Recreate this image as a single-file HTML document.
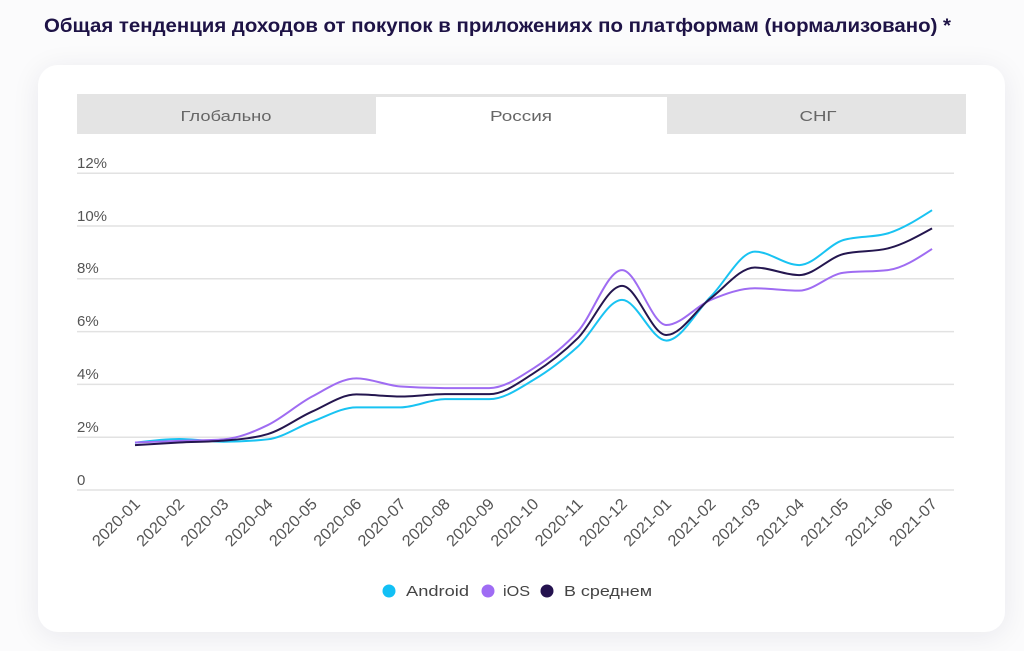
<!DOCTYPE html>
<html><head><meta charset="utf-8">
<style>
html,body{margin:0;padding:0;width:1024px;height:651px;overflow:hidden;background:#fbfbfc;}
.card{position:absolute;left:38px;top:65px;width:967px;height:567px;background:#fff;border-radius:20px;box-shadow:0 4px 28px rgba(30,30,70,0.08);}
svg{position:absolute;left:0;top:0;}
text{font-family:"Liberation Sans",sans-serif;}
</style></head>
<body>
<div class="card"></div>
<svg width="1024" height="651" viewBox="0 0 1024 651">
  <text x="44" y="32" font-size="19" font-weight="bold" fill="#1e1346" textLength="907" lengthAdjust="spacingAndGlyphs">Общая тенденция доходов от покупок в приложениях по платформам (нормализовано) *</text>
  <!-- tabs -->
  <rect x="77" y="94" width="889" height="40" fill="#e4e4e4"/>
  <rect x="376" y="97" width="291" height="37" fill="#ffffff"/>
  <text x="226" y="121" font-size="15" fill="#666" text-anchor="middle" textLength="91" lengthAdjust="spacingAndGlyphs">Глобально</text>
  <text x="521" y="121" font-size="15" fill="#666" text-anchor="middle" textLength="62" lengthAdjust="spacingAndGlyphs">Россия</text>
  <text x="818" y="121" font-size="15" fill="#666" text-anchor="middle" textLength="37" lengthAdjust="spacingAndGlyphs">СНГ</text>
  <!-- grid -->
  <g stroke="#e2e2e2" stroke-width="1.5">
    <line x1="77" x2="954" y1="173.2" y2="173.2"/>
    <line x1="77" x2="954" y1="226" y2="226"/>
    <line x1="77" x2="954" y1="278.8" y2="278.8"/>
    <line x1="77" x2="954" y1="331.6" y2="331.6"/>
    <line x1="77" x2="954" y1="384.4" y2="384.4"/>
    <line x1="77" x2="954" y1="437.2" y2="437.2"/>
    <line x1="77" x2="954" y1="490" y2="490"/>
  </g>
  <g font-size="15" fill="#555">
    <text x="77" y="168">12%</text>
    <text x="77" y="221">10%</text>
    <text x="77" y="273">8%</text>
    <text x="77" y="326">6%</text>
    <text x="77" y="379">4%</text>
    <text x="77" y="432">2%</text>
    <text x="77" y="485">0</text>
  </g>
  <g id="xl" font-size="16" fill="#555" text-anchor="end"></g>
  <path id="pc" fill="none" stroke="#19c3f2" stroke-width="2"/>
  <path id="pp" fill="none" stroke="#9f6cf2" stroke-width="2"/>
  <path id="pd" fill="none" stroke="#24164f" stroke-width="2"/>
  <!-- legend -->
  <circle cx="389" cy="591" r="6.5" fill="#12c0f5"/>
  <text x="406" y="596" font-size="15" fill="#444" textLength="63" lengthAdjust="spacingAndGlyphs">Android</text>
  <circle cx="488" cy="591" r="6.5" fill="#9f6cf4"/>
  <text x="503" y="596" font-size="15" fill="#444" textLength="27" lengthAdjust="spacingAndGlyphs">iOS</text>
  <circle cx="547" cy="591" r="6.5" fill="#24124f"/>
  <text x="564" y="596" font-size="15" fill="#444" textLength="88" lengthAdjust="spacingAndGlyphs">В среднем</text>
</svg>
<script>
(function(){
  var labels=["2020-01","2020-02","2020-03","2020-04","2020-05","2020-06","2020-07","2020-08","2020-09","2020-10","2020-11","2020-12","2021-01","2021-02","2021-03","2021-04","2021-05","2021-06","2021-07"];
  var cyan=[1.79,1.93,1.83,1.92,2.59,3.13,3.13,3.44,3.44,4.17,5.43,7.2,5.66,7.32,9.03,8.52,9.47,9.72,10.6];
  var purp=[1.8,1.86,1.92,2.46,3.54,4.23,3.92,3.86,3.86,4.61,6.0,8.33,6.25,7.2,7.64,7.55,8.23,8.33,9.13];
  var dark=[1.70,1.8,1.87,2.12,2.97,3.62,3.54,3.63,3.63,4.42,5.75,7.73,5.87,7.26,8.43,8.14,8.94,9.15,9.91];
  function X(i){return 135+i*44.28;}
  function Y(v){return 490-v*26.4;}
  var ns="http://www.w3.org/2000/svg";
  var g=document.getElementById("xl");
  for(var i=0;i<labels.length;i++){
    var t=document.createElementNS(ns,"text");
    var ax=X(i)+6, ay=505;
    t.setAttribute("x",ax);t.setAttribute("y",ay);
    t.setAttribute("transform","rotate(-45 "+ax+" "+ay+")");
    t.setAttribute("textLength","60");t.setAttribute("lengthAdjust","spacingAndGlyphs");
    t.textContent=labels[i];g.appendChild(t);
  }
  function sign(x){return x<0?-1:1;}
  function path(vals){
    var n=vals.length,xs=[],ys=[],t=[];
    for(var i=0;i<n;i++){xs.push(X(i));ys.push(Y(vals[i]));}
    for(var i=1;i<n-1;i++){
      var h0=xs[i]-xs[i-1],h1=xs[i+1]-xs[i];
      var s0=(ys[i]-ys[i-1])/h0,s1=(ys[i+1]-ys[i])/h1;
      var p=(s0*h1+s1*h0)/(h0+h1);
      t[i]=(sign(s0)+sign(s1))*Math.min(Math.abs(s0),Math.abs(s1),0.5*Math.abs(p))||0;
    }
    var h=xs[1]-xs[0];t[0]=(3*(ys[1]-ys[0])/h-t[1])/2;
    h=xs[n-1]-xs[n-2];t[n-1]=(3*(ys[n-1]-ys[n-2])/h-t[n-2])/2;
    var d="M"+xs[0]+","+ys[0];
    for(var i=0;i<n-1;i++){
      var dx=(xs[i+1]-xs[i])/3;
      d+="C"+(xs[i]+dx)+","+(ys[i]+dx*t[i])+","+(xs[i+1]-dx)+","+(ys[i+1]-dx*t[i+1])+","+xs[i+1]+","+ys[i+1];
    }
    return d;
  }
  document.getElementById("pc").setAttribute("d",path(cyan));
  document.getElementById("pp").setAttribute("d",path(purp));
  document.getElementById("pd").setAttribute("d",path(dark));
})();
</script>
</body></html>
